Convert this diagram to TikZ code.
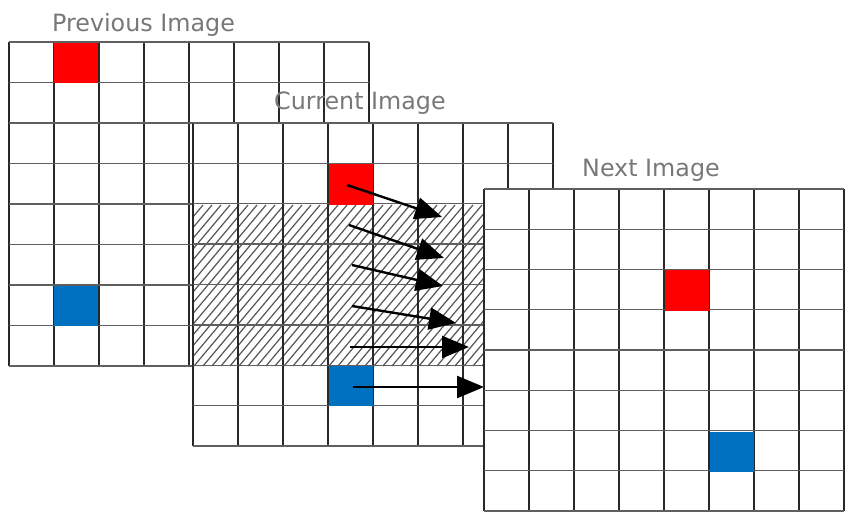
\documentclass[tikz,border=0pt]{standalone}
\usepackage{fontspec}
\setmainfont{DejaVu Sans}
\usetikzlibrary{arrows.meta}
\definecolor{cellred}{RGB}{255,0,0}
\definecolor{cellblue}{RGB}{0,112,192}
\definecolor{vline}{RGB}{40,40,40}
\definecolor{hline}{RGB}{95,95,95}
\definecolor{labelgray}{RGB}{120,120,120}
\definecolor{hatchgray}{RGB}{85,85,85}
\tikzset{
  vgrid/.style={draw=vline,line width=1.4pt},
  hgrid/.style={draw=hline,line width=1.3pt},
  imglabel/.style={anchor=base west,inner sep=0pt,text=labelgray,font=\fontsize{23.8}{28}\selectfont},
  motion/.style={line width=2.4pt,-{Triangle[length=27pt,width=22pt]}},
  hatchline/.style={draw=hatchgray,line width=1.2pt},
}
% #1 = left x, #2 = top y, #3 = column width, #4 = row height
\newcommand{\gridlines}[4]{%
  \foreach \i in {0,...,8} {\draw[vgrid] ({#1+\i*#3},#2) -- ({#1+\i*#3},{#2+8*#4});}
  \foreach \j in {0,...,8} {\draw[hgrid] (#1,{#2+\j*#4}) -- ({#1+8*#3},{#2+\j*#4});}
}
\begin{document}
\begin{tikzpicture}[x=1pt,y=-1pt]
\useasboundingbox[fill=white] (0,0) rectangle (850,518);

% Previous image
\fill[white] (9,42) rectangle (369,366);
\gridlines{9}{42}{45}{40.5}
\fill[cellred] (54,43) rectangle (98,83);
\fill[cellblue] (54,286) rectangle (98,326);
\node[imglabel] (prevlabel) at (52,32) {Previous Image};

% Current image
\fill[white] (193,123) rectangle (553,446);
\begin{scope}
  \clip (193,205) rectangle (553,366);
  \foreach \x in {50,59,...,560} {\draw[hatchline] (\x,366) -- ({\x+135},205);}
\end{scope}
\gridlines{193}{123}{45}{40.375}
\fill[cellred] (329,164) rectangle (373,205);
\fill[cellblue] (329,366) rectangle (373,406);
\node[imglabel] (curlabel) at (274,110) {Current Image};

% motion arrows
\coordinate (a1) at (347,185); \coordinate (b1) at (442,217);
\coordinate (a2) at (349,225); \coordinate (b2) at (444,258);
\coordinate (a3) at (352,265); \coordinate (b3) at (443,286);
\coordinate (a4) at (352,306); \coordinate (b4) at (456,323);
\coordinate (a5) at (350,347); \coordinate (b5) at (469,347);
\coordinate (a6) at (353,387); \coordinate (b6) at (484,387);
\foreach \k in {1,...,6} {\draw[motion] (a\k) -- (b\k);}

% Next image
\fill[white] (484,189) rectangle (844,511);
\gridlines{484}{189}{45}{40.25}
\fill[cellred] (665,270) rectangle (709,311);
\fill[cellblue] (710,432) rectangle (754,472);
\node[imglabel] (nextlabel) at (582,177) {Next Image};
\end{tikzpicture}
\end{document}
